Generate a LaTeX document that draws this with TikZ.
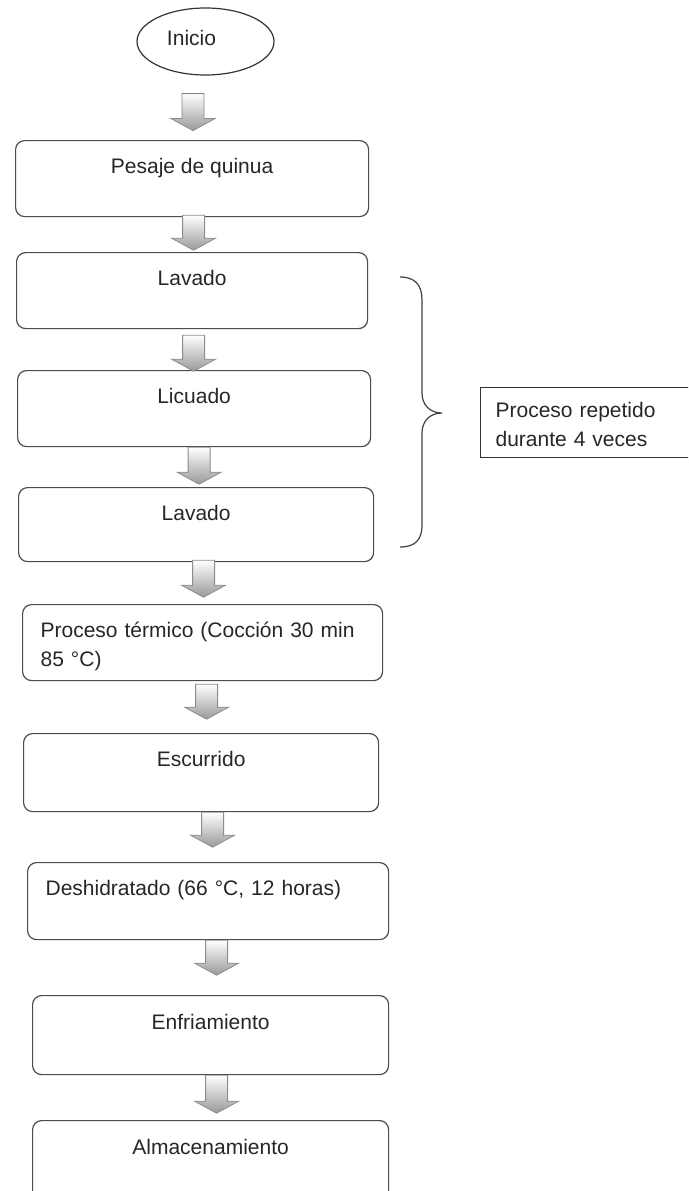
\documentclass[tikz,border=0pt]{standalone}
\usepackage{fontspec}
\setmainfont{Liberation Sans}
\usetikzlibrary{shapes.geometric,calc}
\tikzstyle{startnode}=[ellipse,draw=black!80,line width=1.2pt,minimum width=137pt,minimum height=67pt]
\tikzstyle{stepbox}=[draw=black!70,line width=1.2pt,rounded corners=9pt,anchor=north west,inner xsep=18pt,inner ysep=18pt,text height=15pt,text depth=25pt]
\tikzstyle{notebox}=[draw=black!80,line width=1.2pt,anchor=north west,inner xsep=15pt,inner ysep=15pt,text height=15pt,text depth=25pt,text width=200pt,align=left]
\tikzstyle{blockarrow}=[draw=black!45,line width=0.8pt,top color=white,bottom color=black!40,
  to path={($(\tikztostart)+(-11,0)$) -- ($(\tikztostart)+(11,0)$) -- ($(\tikztotarget)+(11,-12)$)
    -- ($(\tikztotarget)+(22,-12)$) -- (\tikztotarget) -- ($(\tikztotarget)+(-22,-12)$)
    -- ($(\tikztotarget)+(-11,-12)$) -- cycle}]

\begin{document}
\begin{tikzpicture}[x=1pt,y=-1pt,font={\fontsize{21pt}{28.5pt}\selectfont},text=black!85]
  \useasboundingbox (0,0) rectangle (688,1191);
  \clip (0,0) rectangle (688,1191);
  % steps
  \node[startnode] (inicio) at (205.5,41.5) {};
  \node[anchor=base] (iniciotxt) at (191.5,45) {Inicio};
  \node[stepbox,minimum width=353pt] (pesaje) at (15,140) {Pesaje de quinua};
  \node[stepbox,minimum width=351pt] (lavado1) at (16,252) {Lavado};
  \node[stepbox,minimum width=353pt] (licuado) at (17,370) {Licuado};
  \node[stepbox,minimum width=355pt,text depth=23pt] (lavado2) at (18,487) {Lavado};
  \node[stepbox,text width=324pt,align=left] (termico) at (22,604) {Proceso térmico (Cocción 30 min\\85 °C)};
  \node[stepbox,minimum width=355pt,text depth=27pt] (escurrido) at (23,733) {Escurrido};
  \node[stepbox,text width=325pt,align=left,text depth=26pt] (deshidratado) at (27,862) {Deshidratado (66 °C, 12 horas)};
  \node[stepbox,minimum width=356pt,text height=16pt,text depth=27pt] (enfriamiento) at (32,995) {Enfriamiento};
  \node[stepbox,minimum width=356pt,text height=16pt,text depth=30pt] (almacenamiento) at (32,1120) {Almacenamiento};
  % arrows
  \draw[blockarrow] ([xshift=-12.5pt,yshift=-18pt]inicio.south) to ++(0,37);
  \draw[blockarrow] ([xshift=1.5pt,yshift=2pt]pesaje.south) to ++(0,35);
  \draw[blockarrow] ([xshift=1.5pt,yshift=-6pt]lavado1.south) to ++(0,36);
  \draw[blockarrow] ([xshift=5pt]licuado.south) to ++(0,37);
  \draw[blockarrow] ([xshift=7.5pt,yshift=2pt]lavado2.south) to ++(0,37);
  \draw[blockarrow] ([xshift=4pt,yshift=-3pt]termico.south) to ++(0,35);
  \draw[blockarrow] ([xshift=11.5pt]escurrido.south) to ++(0,35);
  \draw[blockarrow] ([xshift=8.5pt]deshidratado.south) to ++(0,35);
  \draw[blockarrow] ([xshift=6pt]enfriamiento.south) to ++(0,38);
  % brace and note
  \draw[black!75,line width=1.2pt] (400,277) .. controls (415,277) and (422,285) .. (422,300)
    -- (422,393) .. controls (422,405) and (430,413) .. (442,413)
    .. controls (430,413) and (422,421) .. (422,433)
    -- (422,525) .. controls (422,540) and (415,547) .. (400,547);
  \node[notebox] (repetido) at (480,387) {Proceso repetido\\durante 4 veces};
\end{tikzpicture}
\end{document}
